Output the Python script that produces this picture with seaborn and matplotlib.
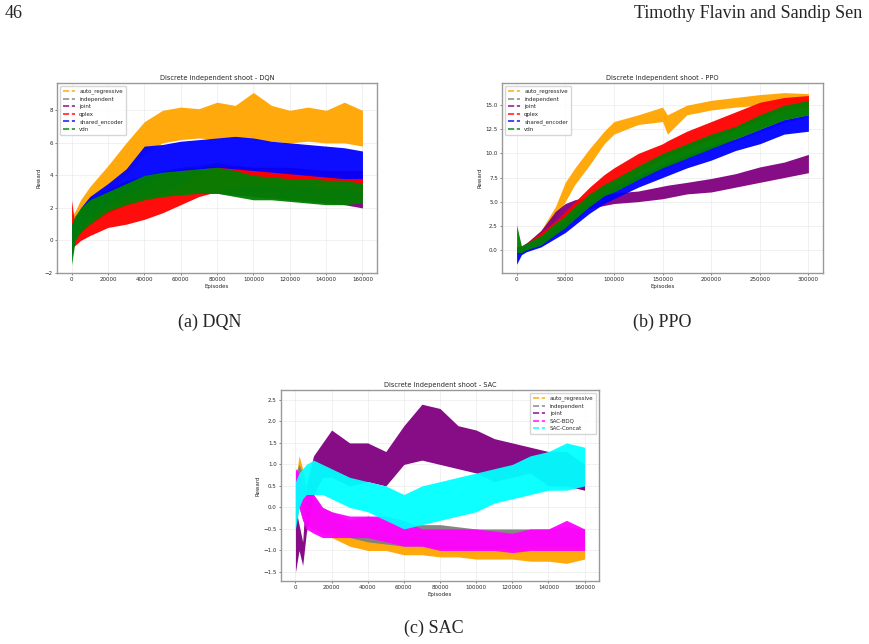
import matplotlib
matplotlib.use("Agg")
import matplotlib.pyplot as plt
from matplotlib.lines import Line2D
import seaborn as sns
import pandas as pd

# ---- data (band low / high, episodes in thousands) ----
dqn_x = [0, 2, 5, 10, 20, 30, 40, 50, 60, 70, 80, 90, 100, 110, 120, 130, 140, 150, 160]
dqn_lo = {
    "auto_regressive": [0.0, 0.8, 1.2, 1.8, 3.0, 4.0, 5.3, 6.0, 6.2, 6.3, 6.2, 6.3, 6.2, 6.1, 6.0, 6.1, 6.0, 6.0, 5.8],
    "independent": [-0.5, 0.2, 0.6, 1.0, 1.8, 2.3, 2.6, 2.8, 3.0, 3.0, 3.0, 2.9, 2.8, 2.8, 2.7, 2.6, 2.6, 2.5, 2.5],
    "joint": [-0.5, 0.2, 0.5, 1.0, 1.7, 2.2, 2.5, 2.7, 2.9, 2.9, 2.9, 2.8, 2.7, 2.6, 2.5, 2.4, 2.3, 2.2, 2.0],
    "qplex": [-0.4, -0.3, 0.0, 0.3, 0.8, 1.0, 1.3, 1.7, 2.2, 2.7, 3.0, 3.3, 3.4, 3.4, 3.4, 3.3, 3.2, 3.2, 3.0],
    "shared_encoder": [-1.0, 0.2, 0.7, 1.3, 2.3, 2.9, 3.5, 4.1, 4.3, 4.4, 4.5, 4.4, 4.3, 4.2, 4.1, 4.0, 3.9, 3.8, 3.8],
    "vdn": [-1.5, 0.0, 0.5, 1.0, 1.8, 2.2, 2.5, 2.7, 2.8, 2.9, 2.9, 2.7, 2.5, 2.5, 2.4, 2.3, 2.2, 2.2, 2.3],
}
dqn_hi = {
    "auto_regressive": [1.5, 1.8, 2.5, 3.3, 4.6, 6.0, 7.3, 8.0, 8.2, 8.1, 8.5, 8.3, 9.1, 8.3, 8.0, 8.2, 8.0, 8.5, 8.0],
    "independent": [1.0, 1.5, 2.0, 2.6, 3.2, 3.7, 4.0, 4.3, 4.5, 4.6, 4.8, 4.6, 4.5, 4.4, 4.3, 4.3, 4.2, 4.2, 4.2],
    "joint": [1.0, 1.5, 1.9, 2.5, 3.1, 3.6, 3.9, 4.2, 4.4, 4.5, 4.6, 4.5, 4.4, 4.3, 4.2, 4.2, 4.1, 4.0, 4.0],
    "qplex": [2.5, 0.8, 1.0, 1.5, 2.0, 2.4, 2.7, 2.9, 3.4, 4.0, 4.5, 4.6, 4.5, 4.5, 4.5, 4.4, 4.3, 4.3, 4.3],
    "shared_encoder": [1.0, 1.3, 2.0, 2.7, 3.5, 4.4, 5.8, 5.9, 6.1, 6.2, 6.3, 6.4, 6.3, 6.1, 6.0, 5.9, 5.8, 5.7, 5.5],
    "vdn": [1.0, 1.5, 2.0, 2.5, 3.0, 3.5, 4.0, 4.2, 4.3, 4.4, 4.5, 4.3, 4.0, 3.9, 3.8, 3.8, 3.7, 3.7, 3.5],
}

ppo_x = [0, 5, 10, 25, 40, 50, 60, 75, 90, 100, 125, 150, 155, 175, 200, 225, 250, 275, 300]
ppo_lo = {
    "auto_regressive": [-0.4, -0.3, 0.0, 1.0, 3.3, 5.0, 6.8, 8.8, 11.0, 12.0, 13.0, 13.3, 12.0, 14.0, 14.5, 14.8, 15.0, 15.2, 15.3],
    "independent": [-0.4, -0.3, -0.1, 0.4, 1.5, 2.2, 3.0, 4.3, 5.6, 6.2, 7.2, 8.3, 8.5, 9.4, 10.4, 11.3, 12.2, 13.2, 13.8],
    "joint": [-0.4, -0.3, 0.0, 1.0, 2.8, 3.5, 4.0, 4.3, 4.6, 4.8, 5.0, 5.3, 5.4, 5.8, 6.0, 6.5, 7.0, 7.5, 8.0],
    "qplex": [-0.3, -0.3, 0.0, 0.8, 1.8, 2.5, 3.5, 5.0, 6.0, 6.5, 8.0, 9.5, 9.7, 10.5, 11.5, 12.5, 13.5, 14.5, 14.8],
    "shared_encoder": [-1.5, -0.5, -0.2, 0.3, 1.2, 1.8, 2.6, 3.8, 4.8, 5.3, 6.5, 7.5, 7.7, 8.5, 9.3, 10.3, 11.0, 12.0, 12.3],
    "vdn": [-0.3, -0.3, 0.0, 0.5, 1.6, 2.3, 3.2, 4.5, 5.6, 6.0, 7.3, 8.5, 8.7, 9.5, 10.5, 11.5, 12.5, 13.5, 14.0],
}
ppo_hi = {
    "auto_regressive": [0.3, 0.3, 0.6, 2.0, 4.5, 7.0, 8.5, 10.5, 12.3, 13.3, 14.0, 14.8, 14.0, 15.0, 15.5, 15.8, 16.1, 16.3, 16.2],
    "independent": [0.3, 0.3, 0.5, 1.4, 2.7, 3.4, 4.3, 5.6, 6.8, 7.4, 8.6, 9.8, 10.0, 10.8, 11.8, 12.6, 13.6, 14.6, 15.2],
    "joint": [0.3, 0.4, 0.7, 2.0, 4.0, 4.8, 5.2, 5.5, 5.7, 5.9, 6.1, 6.6, 6.7, 7.0, 7.4, 7.9, 8.6, 9.1, 9.9],
    "qplex": [0.3, 0.4, 0.7, 1.8, 3.0, 4.0, 5.0, 6.5, 7.8, 8.5, 10.0, 11.0, 11.3, 12.3, 13.3, 14.3, 15.3, 15.8, 16.0],
    "shared_encoder": [0.3, 0.3, 0.5, 1.2, 2.2, 3.0, 3.8, 5.0, 6.0, 6.5, 7.8, 8.8, 9.0, 9.8, 10.8, 11.5, 12.5, 13.5, 14.0],
    "vdn": [2.6, 0.4, 0.7, 1.5, 2.8, 3.5, 4.5, 5.8, 6.8, 7.3, 8.7, 10.0, 10.2, 11.0, 12.0, 12.8, 14.0, 15.0, 15.5],
}

sac_x = [0, 2, 4, 6, 10, 15, 20, 30, 40, 50, 60, 70, 80, 90, 100, 110, 120, 130, 140, 150, 160]
sac_lo = {
    "auto_regressive": [-0.3, 0.2, -0.2, -0.3, -0.5, -0.6, -0.7, -0.9, -1.0, -1.0, -1.1, -1.1, -1.15, -1.15, -1.2, -1.2, -1.2, -1.25, -1.25, -1.3, -1.2],
    "independent": [-0.5, 0.0, -0.3, -0.4, -0.5, -0.6, -0.6, -0.7, -0.8, -0.85, -0.9, -0.9, -0.95, -0.95, -0.95, -0.95, -0.95, -0.9, -0.9, -0.9, -0.9],
    "joint": [-1.5, -1.0, -1.35, -0.6, 0.3, 0.7, 0.7, 0.5, 0.6, 0.5, 1.0, 1.1, 1.0, 0.9, 0.8, 0.6, 0.7, 0.8, 0.5, 0.5, 0.4],
    "SAC-BDQ": [0.0, 0.0, -0.3, -0.5, -0.6, -0.7, -0.7, -0.7, -0.7, -0.8, -0.9, -0.9, -1.0, -1.0, -1.0, -1.0, -1.05, -1.0, -1.0, -1.0, -1.0],
    "SAC-Concat": [-0.5, 0.0, 0.2, 0.3, 0.3, 0.3, 0.2, 0.0, -0.1, -0.3, -0.5, -0.4, -0.3, -0.2, -0.1, 0.1, 0.2, 0.3, 0.4, 0.4, 0.5],
}
sac_hi = {
    "auto_regressive": [0.6, 1.2, 0.9, 0.5, 0.2, -0.1, -0.3, -0.5, -0.6, -0.6, -0.7, -0.75, -0.8, -0.8, -0.85, -0.85, -0.9, -0.9, -0.9, -0.9, -0.9],
    "independent": [0.8, 1.0, 0.8, 0.4, 0.3, 0.0, -0.1, -0.3, -0.2, -0.3, -0.4, -0.4, -0.4, -0.45, -0.5, -0.5, -0.5, -0.5, -0.5, -0.45, -0.5],
    "joint": [0.0, -0.4, -0.8, 0.5, 1.2, 1.5, 1.8, 1.5, 1.5, 1.3, 1.9, 2.4, 2.3, 1.9, 1.8, 1.6, 1.5, 1.4, 1.3, 1.3, 1.0],
    "SAC-BDQ": [0.9, 0.8, 0.5, 0.3, 0.3, 0.0, -0.1, -0.2, -0.2, -0.2, -0.3, -0.5, -0.5, -0.5, -0.5, -0.55, -0.6, -0.5, -0.5, -0.3, -0.5],
    "SAC-Concat": [0.6, 0.8, 0.9, 1.0, 1.1, 1.0, 0.9, 0.7, 0.6, 0.5, 0.3, 0.5, 0.6, 0.7, 0.8, 0.9, 1.0, 1.2, 1.3, 1.5, 1.4],
}

colors = {
    "auto_regressive": "orange", "independent": "grey", "joint": "purple",
    "qplex": "red", "shared_encoder": "blue", "vdn": "green",
    "SAC-BDQ": "magenta", "SAC-Concat": "cyan",
}


def long_frame(xs, lo, hi):
    rows = []
    for name in lo:
        for x, a, b in zip(xs, lo[name], hi[name]):
            rows.append((x * 1000, a, name))
            rows.append((x * 1000, b, name))
    return pd.DataFrame(rows, columns=["Episodes", "Reward", "method"])


sns.set_style("whitegrid")
plt.rcParams["font.family"] = ["DejaVu Sans"]

fig = plt.figure(figsize=(8.69, 6.44), dpi=100)

panels = [
    ("DQN", dqn_x, dqn_lo, dqn_hi, [57 / 869, 371 / 644, 320 / 869, 190 / 644], "upper left", (-2.0, 9.68)),
    ("PPO", ppo_x, ppo_lo, ppo_hi, [502 / 869, 371 / 644, 321 / 869, 190 / 644], "upper left", (-2.4, 17.3)),
    ("SAC", sac_x, sac_lo, sac_hi, [281 / 869, 63 / 644, 318 / 869, 191 / 644], "upper right", (-1.71, 2.73)),
]

for name, xs, lo, hi, rect, loc, ylim in panels:
    ax = fig.add_axes(rect)
    df = long_frame(xs, lo, hi)
    sns.lineplot(data=df, x="Episodes", y="Reward", hue="method", hue_order=list(lo.keys()),
                 palette=colors, estimator="mean", errorbar=("pi", 100),
                 err_kws={"alpha": 0.95, "linewidth": 0}, linewidth=0, legend=False, ax=ax)
    ax.set_ylim(*ylim)
    ax.set_title(f"Discrete Independent shoot - {name}", fontsize=4.8, pad=2)
    ax.set_xlabel("Episodes", fontsize=4, labelpad=1)
    ax.set_ylabel("Reward", fontsize=4, labelpad=2)
    ax.tick_params(labelsize=4, length=1.5, width=0.4, pad=1.5, bottom=True, left=True)
    ax.ticklabel_format(axis="x", style="plain")
    ax.grid(color="#e6e6e6", linewidth=0.4)
    for s in ax.spines.values():
        s.set_color("#999999")
        s.set_linewidth(1.0)
    handles = [Line2D([], [], color=colors[k], linestyle="--", linewidth=1.2, alpha=0.85) for k in lo]
    ax.legend(handles, list(lo.keys()), loc=loc, fontsize=4, frameon=True, borderpad=0.5,
              handlelength=2.2, labelspacing=0.45, framealpha=0.8)

serif = ["Liberation Serif", "DejaVu Serif"]
fig.text(5 / 869, 1 - 5 / 644, "46", family=serif, fontsize=13, va="top", ha="left")
fig.text(862 / 869, 1 - 5 / 644, "Timothy Flavin and Sandip Sen", family=serif, fontsize=13, va="top", ha="right")
fig.text(210 / 869, 1 - 322 / 644, "(a) DQN", family=serif, fontsize=13, va="center", ha="center")
fig.text(662 / 869, 1 - 322 / 644, "(b) PPO", family=serif, fontsize=13, va="center", ha="center")
fig.text(434 / 869, 1 - 628 / 644, "(c) SAC", family=serif, fontsize=13, va="center", ha="center")

fig.savefig("out.png", dpi=100)
